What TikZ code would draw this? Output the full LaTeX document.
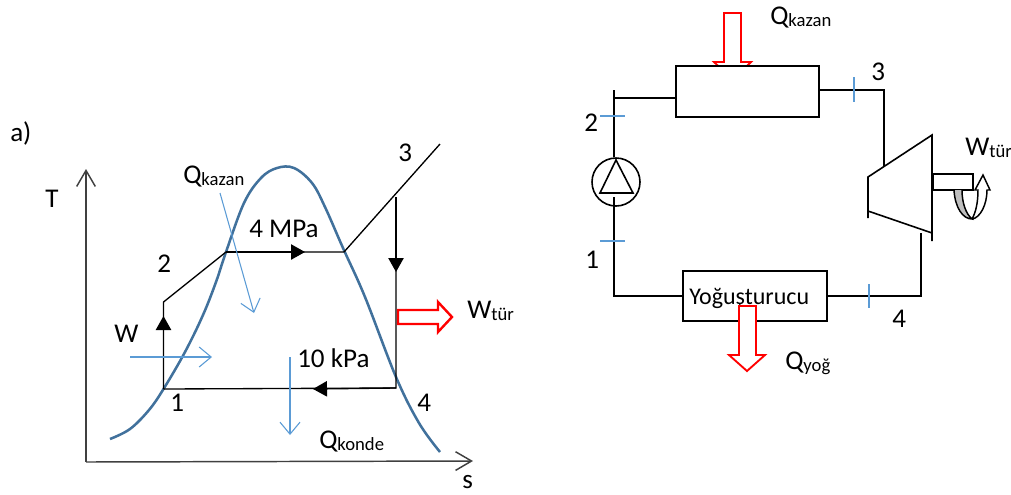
\documentclass[tikz,border=0pt]{standalone}
\usepackage{fontspec}
\setmainfont{Carlito}
\usepackage{xcolor}
\usetikzlibrary{arrows.meta}
\definecolor{domec}{HTML}{41719C}
\definecolor{heatc}{HTML}{5B9BD5}
\definecolor{axisc}{HTML}{404040}
\definecolor{bendc}{HTML}{BFBFBF}
\newcommand{\bigtxt}{\fontsize{20.3}{23}\selectfont}
\newcommand{\subtxt}[2]{#1\raisebox{-1.5pt}{\fontsize{14}{15}\selectfont #2}}
\tikzset{
  lbl/.style={inner sep=0pt, anchor=base west, font=\bigtxt},
  cyc/.style={line width=1pt},
  pipe/.style={line width=1.2pt},
  heat/.style={heatc, line width=0.8pt, -{Straight Barb[length=9pt,width=15pt]}},
  flow/.style={cyc, -{Triangle[length=10.5pt,width=11.5pt]}},
  blockarrow/.style={draw=red, line width=1.4pt, fill=white},
  tick/.style={heatc, line width=0.8pt}
}
\begin{document}
\begin{tikzpicture}[x=0.75pt, y=-0.75pt]
  \useasboundingbox (0,0) rectangle (1011,494);
  % T-s axes
  \coordinate (org) at (86,462);
  \coordinate (tend) at (86,169);
  \coordinate (send) at (473,461);
  \draw[axisc, line width=1.1pt, -{Straight Barb[length=12pt,width=14pt]}] (org) -- (tend);
  \draw[axisc, line width=1.1pt, -{Straight Barb[length=12pt,width=14pt]}] (org) -- (send);
  % cycle points
  \coordinate (p1) at (163.5,389);
  \coordinate (p2) at (163.5,302);
  \coordinate (pf) at (226,252);
  \coordinate (pg) at (344,252);
  \coordinate (p3) at (440,144);
  \coordinate (p3b) at (396,197);
  \coordinate (p4) at (396,388);
  \coordinate (mup) at (163.5,316);
  \coordinate (mhi) at (305,252);
  \coordinate (mdn) at (396,272);
  \coordinate (mlo) at (313,389);
  % saturation dome
  \draw[domec, line width=1.9pt] plot[smooth, tension=0.6] coordinates {
    (110,439) (130,429) (149,410) (163.5,389) (185,352) (203,315) (216,282) (226,252)
    (244,203) (261,178) (277,168) (294,168) (312,183) (325,207) (343,248) (365,297)
    (396,377) (419,423) (440,452)};
  % cycle
  \draw[cyc] (p1) -- (p2) -- (pf) -- (pg) -- (p3);
  \draw[cyc] (p3b) -- (p4) -- (p1);
  \draw[flow] (p1) -- (mup);
  \draw[flow] (pf) -- (mhi);
  \draw[flow] (p3b) -- (mdn);
  \draw[flow] (p4) -- (mlo);
  % heat and work on the T-s side
  \coordinate (qa) at (220,193);
  \coordinate (qb) at (254,313);
  \coordinate (wa) at (130,357);
  \coordinate (wb) at (212,357);
  \coordinate (qc) at (290,357);
  \coordinate (qd) at (290,435);
  \draw[heat] (qa) -- (qb);
  \draw[heat] (wa) -- (wb);
  \draw[heat] (qc) -- (qd);
  \draw[blockarrow, line width=1.8pt] (398,310) -- (438,310) -- (438,302) -- (452,317) -- (438,332) -- (438,324) -- (398,324) -- cycle;
  % labels of the T-s side
  \node[lbl] (lbla) at (10,141) {a)};
  \node[lbl] (lblT) at (45,207) {T};
  \node[lbl] (lbls) at (462,488) {s};
  \node[lbl] (lblqk) at (183,183) {\subtxt{Q}{kazan}};
  \node[lbl] (lblmpa) at (249,237) {4 MPa};
  \node[lbl] (lblkpa) at (297,367) {10 kPa};
  \node[lbl] (lbl1) at (170,411) {1};
  \node[lbl] (lbl2) at (157,272) {2};
  \node[lbl] (lbl3) at (398,161) {3};
  \node[lbl] (lbl4) at (417,411) {4};
  \node[lbl] (lblw) at (114,342) {W};
  \node[lbl] (lblwt) at (467,318) {\subtxt{W}{tür}};
  \node[lbl] (lblqc) at (319,448) {\subtxt{Q}{konde}};

  % boiler heat goes behind the box
  \draw[blockarrow] (724,13) -- (741,13) -- (741,62) -- (751,62) -- (733,80) -- (714,62) -- (724,62) -- cycle;
  \node[draw, pipe, fill=white, minimum width=107.25pt, minimum height=38.25pt, inner sep=0pt] (kazan) at (747.5,91.5) {};
  \node[draw, pipe, minimum width=108pt, minimum height=37.5pt, inner sep=0pt] (yog) at (755,296) {};
  \node[inner sep=0pt, anchor=base west, font=\fontsize{18}{20}\selectfont] (lblyog) at (689,304) {Yoğuşturucu};
  \draw[blockarrow] (739,306) -- (756,306) -- (756,355) -- (765,355) -- (747,371) -- (729,355) -- (739,355) -- cycle;
  % pump
  \node[draw, pipe, circle, minimum size=36pt, inner sep=0pt] (pump) at (616,182) {};
  \draw[pipe, line join=miter] (616,160) -- (600,193) -- (633,193) -- cycle;
  \coordinate (top2) at (614,90);
  \coordinate (in2) at (614,98);
  \coordinate (out1) at (614,197);
  \coordinate (lo1) at (614,296);
  \draw[pipe] (top2) -- (614,157);
  \draw[pipe] (in2) -- (kazan.west |- in2);
  \draw[pipe] (out1) -- (lo1) -- (yog.west |- lo1);
  % turbine
  \draw[pipe] (868,218) -- (868,177) -- (932,135) -- (932,241);
  \draw[pipe] (868,211) -- (932,233);
  \coordinate (trbin) at (884,167);
  \coordinate (trbout) at (921,233);
  \coordinate (kzout) at (884,90);
  \coordinate (ygout) at (921,296);
  \draw[pipe] (kazan.east |- kzout) -- (kzout) -- (trbin);
  \draw[pipe] (yog.east |- ygout) -- (ygout) -- (trbout);
  \node[draw, pipe, anchor=west, minimum width=30pt, minimum height=11.7pt, inner sep=0pt] (shaft) at (932,182) {};
  % shaft rotation
  \fill[bendc] (954,190) .. controls (955,208) and (963,219) .. (972,219) .. controls (966,214) and (962,203) .. (962,190) -- cycle;
  \draw[line width=1.1pt] (954,190) .. controls (955,208) and (963,219) .. (972,219) .. controls (966,214) and (962,203) .. (962,190);
  \draw[line width=1.1pt, line join=miter] (972,219) .. controls (976,212) and (978,202) .. (978,190) -- (975,190) -- (983,175) -- (990,190) -- (987,190) .. controls (987,205) and (980,218) .. (972,219);
  % state ticks
  \draw[tick] (600,116) -- (625,116);
  \draw[tick] (600,241) -- (625,241);
  \draw[tick] (854,77) -- (854,102);
  \draw[tick] (869,284) -- (869,308);
  % labels of the plant side
  \node[lbl] (lblqk2) at (770,24) {\subtxt{Q}{kazan}};
  \node[lbl] (lblqy) at (785,369) {\subtxt{Q}{yoğ}};
  \node[lbl] (lblwt2) at (965,155) {\subtxt{W}{tür}};
  \node[lbl] (lblr1) at (585,268) {1};
  \node[lbl] (lblr2) at (584,131) {2};
  \node[lbl] (lblr3) at (871,80) {3};
  \node[lbl] (lblr4) at (892,327) {4};
\end{tikzpicture}
\end{document}
